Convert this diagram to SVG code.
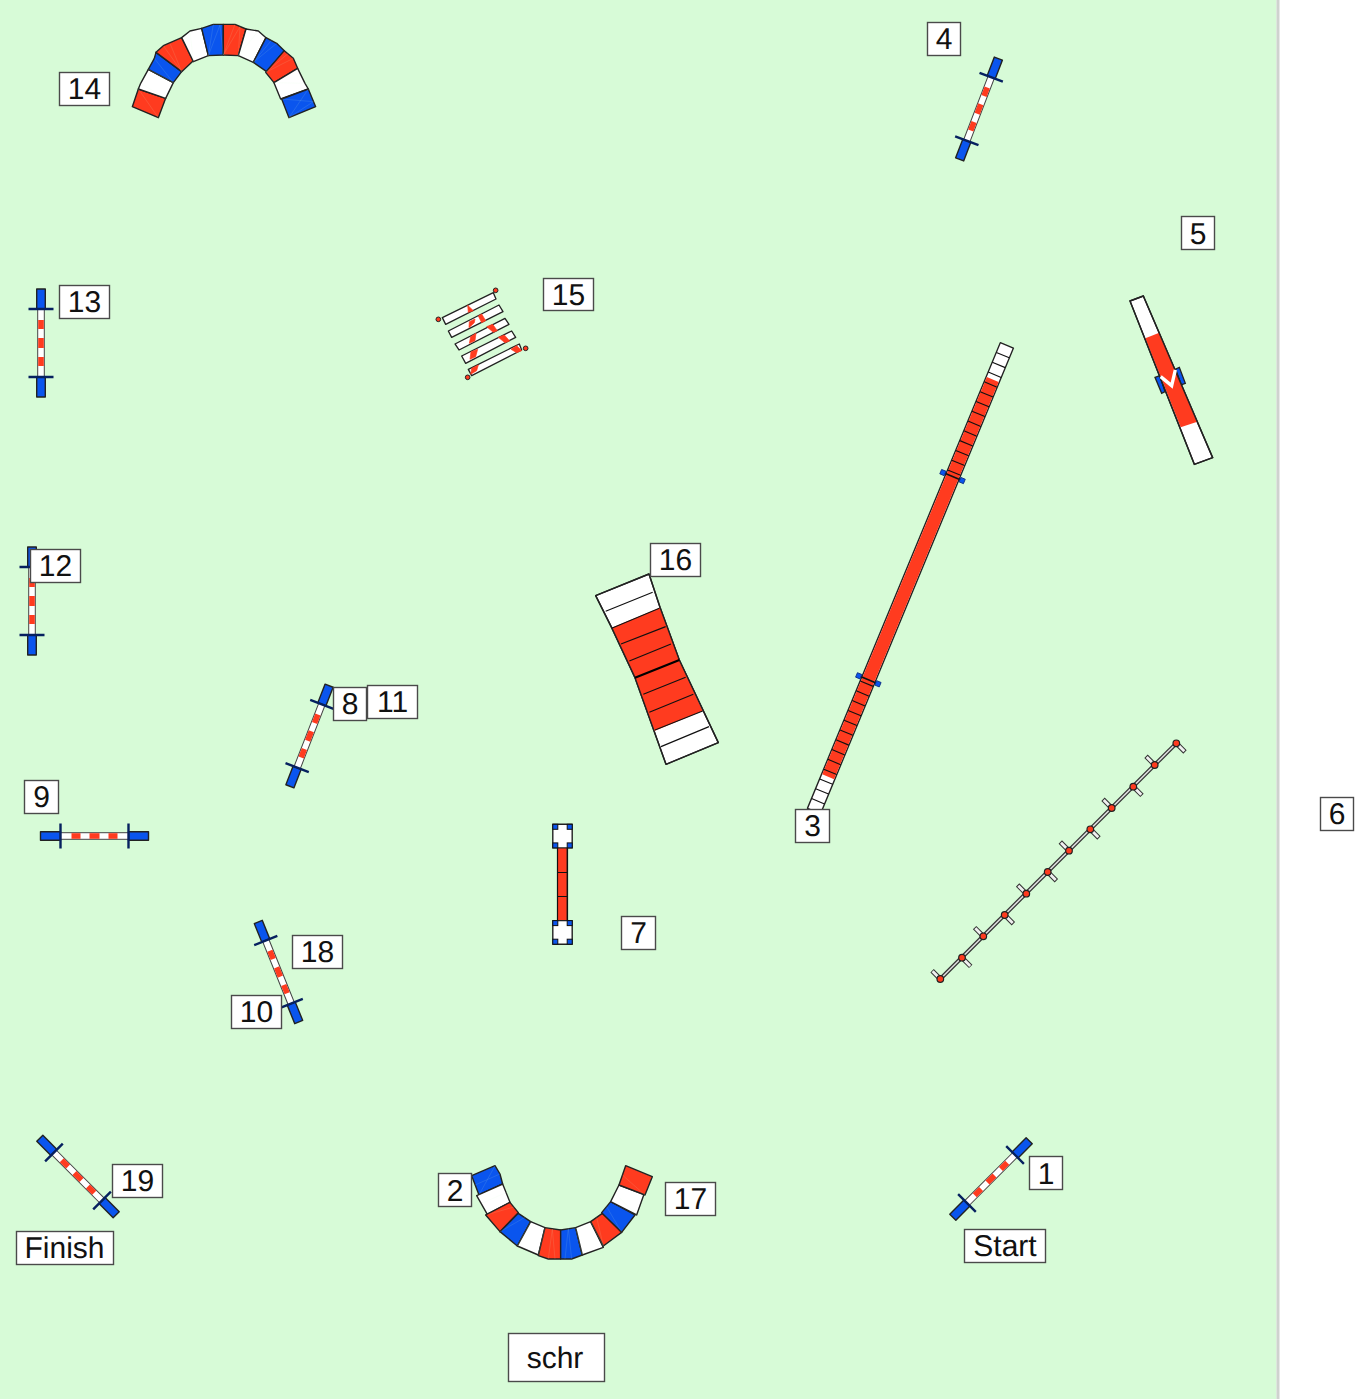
<svg xmlns="http://www.w3.org/2000/svg" xmlns:xlink="http://www.w3.org/1999/xlink" width="1372" height="1399" viewBox="0 0 1372 1399">
<style>
.r{fill:#ff3b1f}.b{fill:#0a55ee}.w{fill:#fff}
.seg polygon{stroke:#222;stroke-width:4.2;stroke-linejoin:round}
.seam{stroke:#d7fbd7;stroke-width:2;stroke-opacity:.18;fill:none}
.ol{stroke:#222;stroke-width:1.4;stroke-linejoin:round}
.rung{stroke:#111;stroke-width:1.1;fill:none}
.lb rect{fill:#fff;stroke:#4a4a4a;stroke-width:1.4}
.lb text{font-family:"Liberation Sans",Arial,sans-serif;font-size:30px;fill:#111;text-anchor:middle;text-rendering:geometricPrecision}
</style>
<defs>
<g id="jump">
<rect x="-54" y="-4.3" width="20" height="8.6" class="b ol"/>
<rect x="34" y="-4.3" width="20" height="8.6" class="b ol"/>
<rect x="-34" y="-3.3" width="68" height="6.6" class="w" stroke="#444" stroke-width="1"/>
<rect x="-23" y="-2.8" width="9" height="5.6" class="r"/>
<rect x="-5" y="-2.8" width="10" height="5.6" class="r"/>
<rect x="14" y="-2.8" width="9" height="5.6" class="r"/>
<path d="M-34-12.5V12.5M34-12.5V12.5" stroke="#06205f" stroke-width="2.4" fill="none"/>
</g>
<g id="pivot">
<path d="M0-11V11" stroke="#111" stroke-width="1.6"/>
<rect x="-2.4" y="-12.8" width="4.8" height="4.8" class="b" stroke="#0a2a80" stroke-width="0.8"/>
<rect x="-2.4" y="8" width="4.8" height="4.8" class="b" stroke="#0a2a80" stroke-width="0.8"/>
</g>
<g id="tblock">
<rect x="0" y="0" width="19.4" height="23.6" class="w ol"/>
<rect x="0" y="0" width="5" height="5" class="b" stroke="#111" stroke-width="1"/>
<rect x="14.4" y="0" width="5" height="5" class="b" stroke="#111" stroke-width="1"/>
<rect x="0" y="18.6" width="5" height="5" class="b" stroke="#111" stroke-width="1"/>
<rect x="14.4" y="18.6" width="5" height="5" class="b" stroke="#111" stroke-width="1"/>
</g>
</defs>
<rect x="0" y="0" width="1372" height="1399" fill="#fff"/>
<rect x="0" y="0" width="1276.5" height="1399" fill="#d7fbd7"/>
<rect x="1276.5" y="0" width="3" height="1399" fill="#cfd2cf"/>

<g id="connectors"></g>

<g id="tunnel-14" class="seg" transform="translate(120 15) scale(0.3333)">
<polygon class="r" points="37,275 55,222 137,250 115,308"/>
<polygon class="w" points="55,222 62,205 85,163 160,203 137,250"/>
<polygon class="b" points="85,163 103,130 108,112 185,170 160,203"/>
<polygon class="r" points="108,112 130,92 185,68 220,137 185,170"/>
<polygon class="w" points="185,68 210,48 245,40 265,122 220,140"/>
<polygon class="b" points="245,40 280,28 310,28 310,120 265,122"/>
<polygon class="r" points="310,28 345,28 378,42 355,122 310,120"/>
<polygon class="w" points="378,42 415,48 438,68 400,142 355,122"/>
<polygon class="b" points="438,68 470,85 493,107 440,170 400,142"/>
<polygon class="r" points="493,107 520,130 533,160 462,203 437,172"/>
<polygon class="w" points="533,160 555,205 565,222 482,252 462,203"/>
<polygon class="b" points="565,222 587,275 507,308 485,252"/>
<path class="seam" d="M55,222 115,308M62,205 137,250M103,130 160,203 85,163M130,92 185,170 150,85M210,48 220,140M280,28 265,122 300,30 310,120M345,28 310,120 360,35 355,122M415,48 355,122M470,85 400,142 455,75M520,130 437,172 505,115M555,205 462,203M565,222 507,308 580,260 485,252"/>
</g>

<g id="tunnel-2" class="seg" transform="translate(465 1160) scale(0.3333)">
<polygon class="b" points="20,47 90,17 105,42 113,72 42,105"/>
<polygon class="w" points="35,107 113,72 135,127 67,163"/>
<polygon class="r" points="62,165 135,127 160,158 105,215"/>
<polygon class="b" points="105,215 160,160 197,185 157,258"/>
<polygon class="w" points="197,185 240,203 220,285 157,258"/>
<polygon class="r" points="240,203 287,210 287,297 250,297 220,287"/>
<polygon class="b" points="287,210 332,203 352,285 320,297 287,297"/>
<polygon class="w" points="332,203 377,185 415,262 352,285"/>
<polygon class="r" points="377,185 412,160 470,217 415,258"/>
<polygon class="b" points="410,158 437,125 510,165 470,217"/>
<polygon class="w" points="437,125 462,75 537,103 515,165"/>
<polygon class="r" points="462,75 482,17 562,50 540,105"/>
<path class="seam" d="M30,75 105,42M42,105 90,17M50,130 130,95M70,163 150,140M105,215 180,172M157,258 197,185M220,285 240,203M250,297 262,207 270,297M320,297 310,205 300,297M352,285 332,203M415,258 395,172M415,258 377,185M470,217 425,140M515,165 450,100M540,105 472,45"/>
</g>

<g id="jump-4"><use xlink:href="#jump" href="#jump" transform="translate(979 109) rotate(-69)"/></g>
<g id="jump-13"><use xlink:href="#jump" href="#jump" transform="translate(41 343) rotate(90)"/></g>
<g id="jump-12"><use xlink:href="#jump" href="#jump" transform="translate(32 601) rotate(90)"/></g>
<g id="jump-8"><use xlink:href="#jump" href="#jump" transform="translate(309.5 736) rotate(-68.7)"/></g>
<g id="jump-9"><use xlink:href="#jump" href="#jump" transform="translate(94.5 836)"/></g>
<g id="jump-18"><use xlink:href="#jump" href="#jump" transform="translate(278.5 972) rotate(68)"/></g>
<g id="jump-19"><use xlink:href="#jump" href="#jump" transform="translate(78 1176.5) rotate(45)"/></g>
<g id="jump-1"><use xlink:href="#jump" href="#jump" transform="translate(991 1179) rotate(-45)"/></g>

<g id="ladder-15" transform="translate(425 280) scale(0.3333)">
<g stroke="#222" stroke-width="4" stroke-linejoin="round" fill="#fff">
<polygon points="52,113 205,38 213,57 62,133"/>
<polygon points="70,153 222,75 234,95 80,172"/>
<polygon points="90,192 240,115 252,133 102,210"/>
<polygon points="110,228 260,153 272,172 122,250"/>
<polygon points="130,268 283,192 290,210 140,287"/>
</g>
<g class="r" stroke="#ff3b1f" stroke-width="2">
<polygon points="128,76 145,92 130,97"/>
<polygon points="133,125 150,117 148,128 132,143"/>
<polygon points="160,108 170,102 182,122 170,128"/>
<polygon points="137,170 153,160 150,182 133,190"/>
<polygon points="185,140 203,133 217,152 205,157"/>
<polygon points="138,215 158,208 152,230 135,238"/>
<polygon points="220,172 238,165 254,183 240,188"/>
<polygon points="140,265 160,255 155,272 137,283"/>
<polygon points="258,208 275,197 290,212 275,218"/>
</g>
<g class="r" stroke="#222" stroke-width="3">
<circle cx="40" cy="118" r="7"/><circle cx="212" cy="31" r="7"/><circle cx="302" cy="205" r="7"/><circle cx="128" cy="292" r="7"/>
</g>
</g>

<g id="seesaw-5" transform="translate(1120 290) scale(0.3333)">
<polygon points="105,262 120,257 135,305 125,310" class="b" stroke="#222" stroke-width="4"/>
<polygon points="167,237 178,232 196,280 183,285" class="b" stroke="#222" stroke-width="4"/>
<polygon points="30,33 70,18 278,503 223,523" class="w" stroke="#222" stroke-width="4.2" stroke-linejoin="round"/>
<polygon points="76,145 118,128 232,395 182,412" class="r"/>
<path d="M30,33 70,18 278,503 223,523Z" fill="none" stroke="#222" stroke-width="4.2"/>
<polyline points="122,260 155,287 166,240" fill="none" stroke="#fff" stroke-width="10"/>
</g>

<g id="dogwalk-3" transform="translate(814 811) rotate(-67.5)">
<rect x="0" y="-7.1" width="504" height="14.2" class="w ol"/>
<rect x="37" y="-6.4" width="430" height="12.8" class="r"/>
<path class="rung" d="M10.6-7V7M21.2-7V7M31.8-7V7M42.4-7V7M53-7V7M63.6-7V7M74.2-7V7M84.8-7V7M95.4-7V7M106-7V7M116.6-7V7M127.2-7V7M137.8-7V7M493.4-7V7M482.8-7V7M472.2-7V7M461.6-7V7M451-7V7M440.4-7V7M429.8-7V7M419.2-7V7M408.6-7V7M398-7V7M387.4-7V7M376.8-7V7M366.2-7V7"/>
<use xlink:href="#pivot" href="#pivot" transform="translate(142 0)"/>
<use xlink:href="#pivot" href="#pivot" transform="translate(362 0)"/>
</g>

<g id="aframe-16" transform="translate(590 570) scale(0.3333)">
<polygon points="17,77 177,12 210,112 268,270 385,518 228,583 135,323 65,173" class="w" stroke="#222" stroke-width="4.2" stroke-linejoin="round"/>
<polygon points="65,173 210,113 268,270 338,423 193,483 135,323" class="r"/>
<path d="M65,173 17,77 177,12 210,112 268,270 385,518 228,583 135,323Z" fill="none" stroke="#222" stroke-width="4.2" stroke-linejoin="round"/>
<path d="M47,124 188,67M65,175 208,115M93,222 227,170M118,273 243,222M160,373 287,322M178,427 310,373M195,480 338,423M213,530 357,470" stroke="#111" stroke-width="3.5" fill="none"/>
<path d="M135,323 268,270" stroke="#000" stroke-width="6.5" fill="none"/>
</g>

<g id="table-7">
<rect x="557.5" y="848" width="10" height="72" class="r"/>
<rect x="566" y="848" width="1.8" height="72" fill="#a83020"/>
<path d="M557.5 848V920M567.5 848V920M557.5 872.5H567.5M557.5 896.5H567.5" stroke="#111" stroke-width="1.2" fill="none"/>
<use xlink:href="#tblock" href="#tblock" x="552.8" y="824.3"/>
<use xlink:href="#tblock" href="#tblock" x="552.8" y="920.6"/>
</g>

<g id="weave-6">
<path d="M940.3 979L1176.3 743.3" stroke="#333" stroke-width="4" fill="none"/>
<path d="M940.3 979l-8.2-8.2M962 957.7l8.7 8.7M983.3 936.3l-8.7-8.7M1004.7 915l8.7 8.7M1026.3 893.7l-8.7-8.7M1047.7 872l8.7 8.7M1069 850.7l-8.7-8.7M1090.3 829.3l8.7 8.7M1111.7 808l-8.7-8.7M1133.3 786.7l8.7 8.7M1154.7 765l-8.7-8.7M1176.3 743.3l8.7 8.7" stroke="#333" stroke-width="4.8" fill="none"/>
<path d="M940.3 979L1176.3 743.3" stroke="#ddd" stroke-width="1.6" fill="none"/>
<path d="M938 976.7l-5.4-5.4M964.5 960.2l5.7 5.7M981 934l-5.7-5.7M1007 917.3l5.7 5.7M1024 891.4l-5.7-5.7M1050 874.3l5.7 5.7M1066.7 848.4l-5.7-5.7M1092.6 831.6l5.7 5.7M1109.4 805.7l-5.7-5.7M1135.6 789l5.7 5.7M1152.4 762.7l-5.7-5.7M1178.6 745.6l5.7 5.7" stroke="#f0f0f0" stroke-width="2.8" fill="none"/>
<g class="r" stroke="#222" stroke-width="1.2">
<circle cx="940.3" cy="979" r="3.3"/><circle cx="962" cy="957.7" r="3.3"/><circle cx="983.3" cy="936.3" r="3.3"/><circle cx="1004.7" cy="915" r="3.3"/><circle cx="1026.3" cy="893.7" r="3.3"/><circle cx="1047.7" cy="872" r="3.3"/><circle cx="1069" cy="850.7" r="3.3"/><circle cx="1090.3" cy="829.3" r="3.3"/><circle cx="1111.7" cy="808" r="3.3"/><circle cx="1133.3" cy="786.7" r="3.3"/><circle cx="1154.7" cy="765" r="3.3"/><circle cx="1176.3" cy="743.3" r="3.3"/>
</g>
</g>

<g id="labels" class="lb">
<g id="l14"><rect x="59.5" y="72.5" width="50" height="33"/><text x="84.5" y="99">14</text></g>
<g id="l4"><rect x="927.5" y="22.5" width="33" height="33"/><text x="944" y="49">4</text></g>
<g id="l5"><rect x="1181.5" y="216.5" width="33" height="33"/><text x="1198" y="243.5">5</text></g>
<g id="l13"><rect x="59.5" y="285.5" width="50" height="33"/><text x="84.5" y="312">13</text></g>
<g id="l15"><rect x="543.5" y="278.5" width="50" height="32"/><text x="568.5" y="305">15</text></g>
<g id="l12"><rect x="30.5" y="549.5" width="50" height="33"/><text x="55.5" y="576">12</text></g>
<g id="l16"><rect x="650.5" y="543.5" width="50" height="33"/><text x="675.5" y="570">16</text></g>
<g id="l8"><rect x="333.5" y="687.5" width="33" height="33"/><text x="350" y="714">8</text></g>
<g id="l11"><rect x="367.5" y="685.5" width="50" height="33"/><text x="392.5" y="712">11</text></g>
<g id="l9"><rect x="24.5" y="780.5" width="34" height="33"/><text x="41.5" y="807">9</text></g>
<g id="l3"><rect x="795.5" y="809.5" width="34" height="33"/><text x="812.5" y="836">3</text></g>
<g id="l7"><rect x="621.5" y="916.5" width="34" height="33"/><text x="638.5" y="943">7</text></g>
<g id="l6"><rect x="1320.5" y="797.5" width="33" height="33"/><text x="1337" y="824">6</text></g>
<g id="l18"><rect x="292.5" y="935.5" width="50" height="33"/><text x="317.5" y="962">18</text></g>
<g id="l10"><rect x="231.5" y="995.5" width="50" height="33"/><text x="256.5" y="1022">10</text></g>
<g id="l19"><rect x="112.5" y="1164.5" width="50" height="33"/><text x="137.5" y="1191">19</text></g>
<g id="lFinish"><rect x="16.5" y="1231.5" width="97" height="33"/><text x="64.5" y="1258">Finish</text></g>
<g id="l2"><rect x="438.5" y="1173.5" width="33" height="33"/><text x="455" y="1200.5">2</text></g>
<g id="l17"><rect x="665.5" y="1182.5" width="50" height="33"/><text x="690.5" y="1209">17</text></g>
<g id="l1"><rect x="1029.5" y="1156.5" width="33" height="33"/><text x="1046" y="1183.5">1</text></g>
<g id="lStart"><rect x="964.5" y="1229.5" width="81" height="33"/><text x="1005" y="1256">Start</text></g>
<g id="lschr"><rect x="508.5" y="1333.5" width="96" height="48"/><text x="555" y="1368">schr</text></g>
</g>
</svg>
